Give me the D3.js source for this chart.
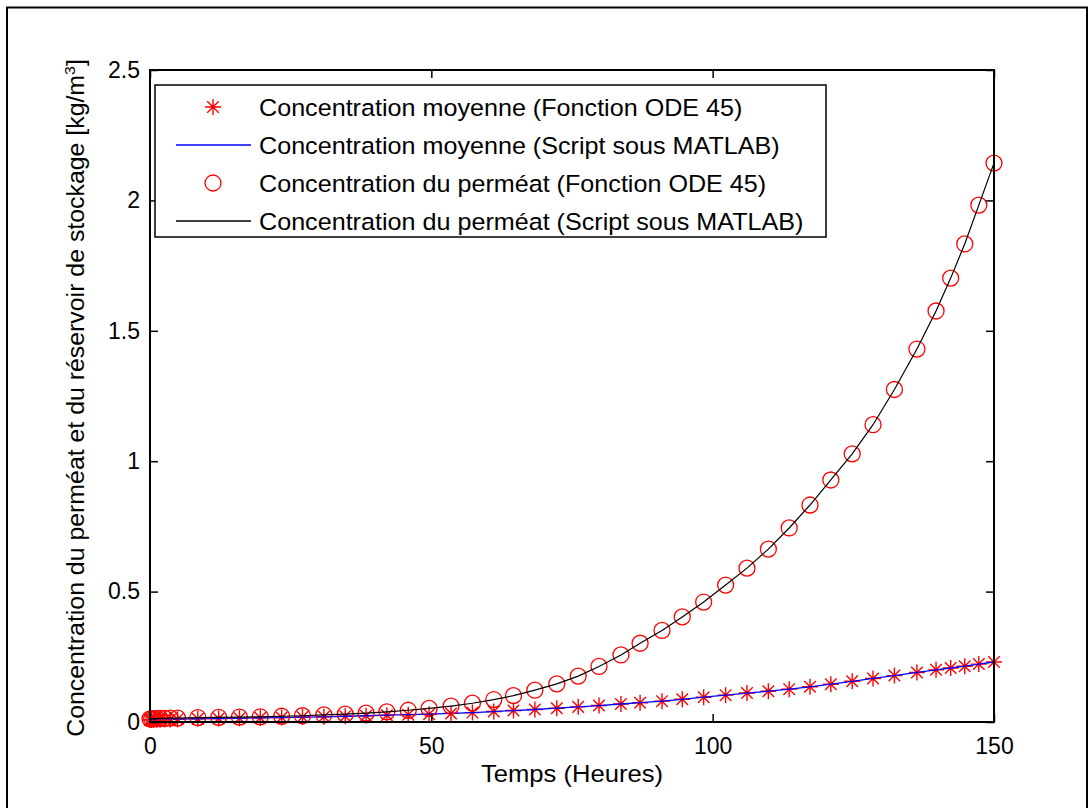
<!DOCTYPE html>
<html>
<head>
<meta charset="utf-8">
<script src="https://cdn.jsdelivr.net/npm/d3@7"></script>
<style>
  body { margin: 0; background: #fff; }
  svg text { font-family: "Liberation Sans", Arial, sans-serif; fill: #000; }
</style>
</head>
<body>
<svg id="chart" width="1092" height="808"></svg>
<script>
// temps (heures) des points de sortie ODE 45
const temps = [0, 0.3, 0.7, 1.2, 1.8, 2.6, 3.6, 4.9, 8.5, 12.2, 15.9, 19.6, 23.4, 27.1, 30.9, 34.7,
  38.4, 42.1, 45.9, 49.6, 53.5, 57.3, 61.1, 64.6, 68.4, 72.3, 76.1, 79.8, 83.7, 87.1, 91.0, 94.6,
  98.4, 102.3, 106.1, 109.9, 113.6, 117.3, 121.0, 124.8, 128.5, 132.3, 136.3, 139.7, 142.3, 144.8, 147.3, 150]

// concentration moyenne (reservoir)
const concMoyenne = [0.008, 0.008, 0.009, 0.009, 0.009, 0.010, 0.010, 0.011, 0.012, 0.013, 0.014, 0.016,
  0.017, 0.019, 0.020, 0.022, 0.024, 0.026, 0.028, 0.030, 0.033, 0.036, 0.040, 0.044, 0.048, 0.053,
  0.058, 0.063, 0.069, 0.074, 0.080, 0.087, 0.095, 0.103, 0.111, 0.118, 0.126, 0.135, 0.145, 0.156,
  0.167, 0.178, 0.190, 0.200, 0.207, 0.214, 0.222, 0.230]

// concentration du permeat
const concPermeat = [0.012, 0.012, 0.013, 0.013, 0.014, 0.014, 0.015, 0.015, 0.017, 0.018, 0.019, 0.020,
  0.022, 0.024, 0.027, 0.030, 0.034, 0.039, 0.045, 0.052, 0.061, 0.072, 0.086, 0.101, 0.122, 0.146,
  0.176, 0.213, 0.257, 0.302, 0.351, 0.403, 0.460, 0.525, 0.590, 0.663, 0.744, 0.832, 0.928, 1.028,
  1.140, 1.275, 1.430, 1.576, 1.702, 1.833, 1.982, 2.143]

const xTicks = [0, 50, 100, 150]
const yTicks = [0, 0.5, 1, 1.5, 2, 2.5]

const legendLabels = [
  "Concentration moyenne (Fonction ODE 45)",
  "Concentration moyenne (Script sous MATLAB)",
  "Concentration du perméat (Fonction ODE 45)",
  "Concentration du perméat (Script sous MATLAB)"
]

const svg = d3.select("#chart")
const mLeft = 150, mRight = 994, mTop = 70, mBottom = 722
const fontSize = 23.5

// cadre exterieur
svg.append("rect")
  .attr("x", 7).attr("y", 7.5).attr("width", 1080).attr("height", 810)
  .attr("fill", "none").attr("stroke", "#000").attr("stroke-width", 2)

const x = d3.scaleLinear().domain([0, 150]).range([mLeft, mRight])
const y = d3.scaleLinear().domain([0, 2.5]).range([mBottom, mTop])

const moy = temps.map((t, i) => ({t: t, c: concMoyenne[i]}))
const perm = temps.map((t, i) => ({t: t, c: concPermeat[i]}))

const plot = svg.append("g")

// asterisques rouges
const star = (g, r) => {
  const a = r * 0.72
  g.append("path")
    .attr("d", `M${-r},0H${r}M0,${-r}V${r}M${-a},${-a}L${a},${a}M${-a},${a}L${a},${-a}`)
    .attr("stroke", "red").attr("stroke-width", 1.4).attr("fill", "none")
}

plot.selectAll("g.star")
  .data(moy)
  .join("g")
  .attr("class", "star")
  .attr("transform", d => `translate(${x(d.t)},${y(d.c)})`)
  .each(function() { star(d3.select(this), 8) })

const line = d3.line().x(d => x(d.t)).y(d => y(d.c))

plot.append("path")
  .datum(moy)
  .attr("d", line)
  .attr("fill", "none").attr("stroke", "blue").attr("stroke-width", 1.3)

plot.selectAll("circle.perm")
  .data(perm)
  .join("circle")
  .attr("class", "perm")
  .attr("cx", d => x(d.t))
  .attr("cy", d => y(d.c))
  .attr("r", 8)
  .attr("fill", "none").attr("stroke", "red").attr("stroke-width", 1.3)

plot.append("path")
  .datum(perm)
  .attr("d", line)
  .attr("fill", "none").attr("stroke", "#000").attr("stroke-width", 1.2)

// axes (ticks vers l'interieur, comme MATLAB)
const axL = svg.append("g").attr("transform", `translate(${mLeft},0)`)
  .call(d3.axisLeft(y).tickValues(yTicks).tickSize(-8).tickPadding(10).tickFormat(d3.format("")))
const axR = svg.append("g").attr("transform", `translate(${mRight},0)`)
  .call(d3.axisRight(y).tickValues(yTicks).tickSize(-8).tickFormat(""))
const axB = svg.append("g").attr("transform", `translate(0,${mBottom})`)
  .call(d3.axisBottom(x).tickValues(xTicks).tickSize(-8).tickPadding(16).tickFormat(d3.format("")))
const axT = svg.append("g").attr("transform", `translate(0,${mTop})`)
  .call(d3.axisTop(x).tickValues(xTicks).tickSize(-8).tickFormat(""))

;[axL, axR, axB, axT].forEach(a => {
  a.select(".domain").remove()
  a.selectAll(".tick line").attr("stroke", "#000").attr("stroke-width", 1.5)
  a.selectAll("text").attr("font-size", 23).attr("font-family", "Liberation Sans, Arial, sans-serif")
})

svg.append("rect")
  .attr("x", mLeft).attr("y", mTop).attr("width", mRight - mLeft).attr("height", mBottom - mTop)
  .attr("fill", "none").attr("stroke", "#000").attr("stroke-width", 2)

// titres des axes (texte un peu etire en largeur, comme la figure)
svg.append("text")
  .attr("transform", `translate(${(mLeft + mRight) / 2},782) scale(1.09,1)`)
  .attr("text-anchor", "middle").attr("font-size", fontSize)
  .text("Temps (Heures)")

const yl = svg.append("text")
  .attr("transform", "translate(84,398) rotate(-90) scale(1.058,1)")
  .attr("text-anchor", "middle").attr("font-size", fontSize)
yl.append("tspan").text("Concentration du perméat et du réservoir de stockage [kg/m")
yl.append("tspan").attr("font-size", 15).attr("dy", -9).text("3")
yl.append("tspan").attr("dy", 9).text("]")

// legende
const leg = svg.append("g")
leg.append("rect")
  .attr("x", 155).attr("y", 85).attr("width", 671).attr("height", 152)
  .attr("fill", "#fff").attr("stroke", "#000").attr("stroke-width", 1.5)

const rowY = [107, 145, 183, 221]
legendLabels.forEach((lab, i) => {
  const ry = rowY[i]
  const g = leg.append("g")
  if (i === 0) {
    const s = g.append("g").attr("transform", `translate(213,${ry})`)
    star(s, 8)
  } else if (i === 2) {
    g.append("circle").attr("cx", 213).attr("cy", ry).attr("r", 8)
      .attr("fill", "none").attr("stroke", "red").attr("stroke-width", 1.3)
  } else {
    g.append("line").attr("x1", 176).attr("x2", 251).attr("y1", ry).attr("y2", ry)
      .attr("stroke", i === 1 ? "blue" : "#000").attr("stroke-width", 1.3)
  }
  g.append("text")
    .attr("transform", `translate(259,${ry + 8.5}) scale(1.07,1)`)
    .attr("font-size", fontSize).text(lab)
})
</script>
</body>
</html>
